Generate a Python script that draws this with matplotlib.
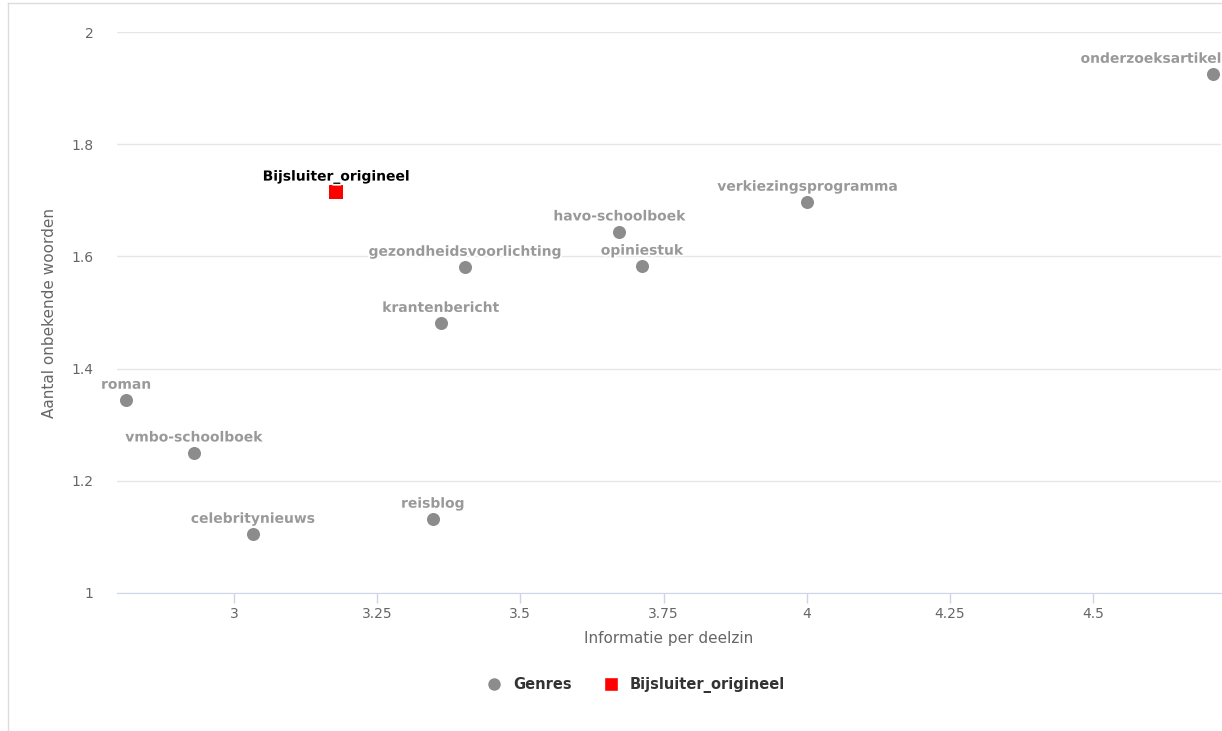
import matplotlib
matplotlib.use("Agg")
import matplotlib.pyplot as plt
import matplotlib.patheffects as pe
from matplotlib.lines import Line2D

GENRES = [
    "roman", "vmbo-schoolboek", "celebritynieuws", "reisblog", "krantenbericht",
    "gezondheidsvoorlichting", "havo-schoolboek", "opiniestuk",
    "verkiezingsprogramma", "onderzoeksartikel",
]
GENRE_X = [2.812, 2.930, 3.033, 3.347, 3.361, 3.403, 3.673, 3.712, 4.001, 4.709]
GENRE_Y = [1.344, 1.250, 1.105, 1.132, 1.481, 1.581, 1.644, 1.583, 1.697, 1.925]

DOC_NAME = "Bijsluiter_origineel"
DOC_X = [3.178]
DOC_Y = [1.715]

X_TICKS = [3, 3.25, 3.5, 3.75, 4, 4.25, 4.5]
X_TICK_LABELS = ["3", "3.25", "3.5", "3.75", "4", "4.25", "4.5"]
Y_TICKS = [1, 1.2, 1.4, 1.6, 1.8, 2]
Y_TICK_LABELS = ["1", "1.2", "1.4", "1.6", "1.8", "2"]

GRAY = "#8c8c8c"
LABEL_GRAY = "#999999"
AXIS_BLUE = "#ccd6eb"
GRID = "#e6e6e6"
TEXT = "#666666"

W, H = 1222, 731
fig = plt.figure(figsize=(W / 100, H / 100), dpi=100)
ax = fig.add_axes([117 / W, 1 - 593 / H, (1221 - 117) / W, (593 - 32) / H])

# outer chart border (left + top)
fig.add_artist(Line2D([8 / W, 8 / W], [0, 1 - 3 / H], color="#dcdcdc", lw=1))
fig.add_artist(Line2D([8 / W, 1], [1 - 3 / H, 1 - 3 / H], color="#dcdcdc", lw=1))

ax.scatter(GENRE_X, GENRE_Y, s=88, color=GRAY, zorder=3, linewidths=0)
ax.scatter(DOC_X, DOC_Y, s=100, marker="s", color="#ff0000", zorder=3, linewidths=0)

outline = [pe.withStroke(linewidth=2.5, foreground="white")]
for name, x, y in zip(GENRES, GENRE_X, GENRE_Y):
    if x == max(GENRE_X):
        ha, dx = "right", 6
    else:
        ha, dx = "center", 0
    ax.annotate(name, (x, y), xytext=(dx, 11), textcoords="offset points",
                ha=ha, va="center", fontsize=10, fontweight="bold",
                color=LABEL_GRAY, path_effects=outline, zorder=4,
                annotation_clip=False)
ax.annotate(DOC_NAME, (DOC_X[0], DOC_Y[0]), xytext=(0, 11), textcoords="offset points",
            ha="center", va="center", fontsize=10, fontweight="bold",
            color="#000000", path_effects=outline, zorder=4)

ax.set_xlim(2.796, 4.723)
ax.set_ylim(1, 2)
ax.set_xticks(X_TICKS)
ax.set_xticklabels(X_TICK_LABELS)
ax.set_yticks(Y_TICKS)
ax.set_yticklabels(Y_TICK_LABELS)

ax.grid(axis="y", color=GRID, lw=1)
ax.set_axisbelow(True)
for side in ["top", "right", "left"]:
    ax.spines[side].set_visible(False)
ax.spines["bottom"].set_color(AXIS_BLUE)
ax.spines["bottom"].set_zorder(2)
ax.tick_params(axis="x", colors=TEXT, length=7, width=1, color=AXIS_BLUE,
               labelsize=10, pad=3)
ax.tick_params(axis="y", colors=TEXT, length=0, labelsize=10, pad=17)

ax.set_xlabel("Informatie per deelzin", color=TEXT, fontsize=11, labelpad=7)
ax.set_ylabel("Aantal onbekende woorden", color=TEXT, fontsize=11, labelpad=10)

handles = [
    Line2D([0], [0], marker="o", color="w", markerfacecolor=GRAY, markersize=10, label="Genres"),
    Line2D([0], [0], marker="s", color="w", markerfacecolor="#ff0000", markersize=10,
           label=DOC_NAME),
]
leg = fig.legend(handles=handles, loc="center", bbox_to_anchor=(636 / W, 1 - 685 / H),
                 ncol=2, frameon=False, handlelength=1, handletextpad=0.8,
                 columnspacing=2.2, prop={"weight": "bold", "size": 10.5})
for t in leg.get_texts():
    t.set_color("#333333")

fig.savefig("out.png", dpi=100)
plt.close(fig)
